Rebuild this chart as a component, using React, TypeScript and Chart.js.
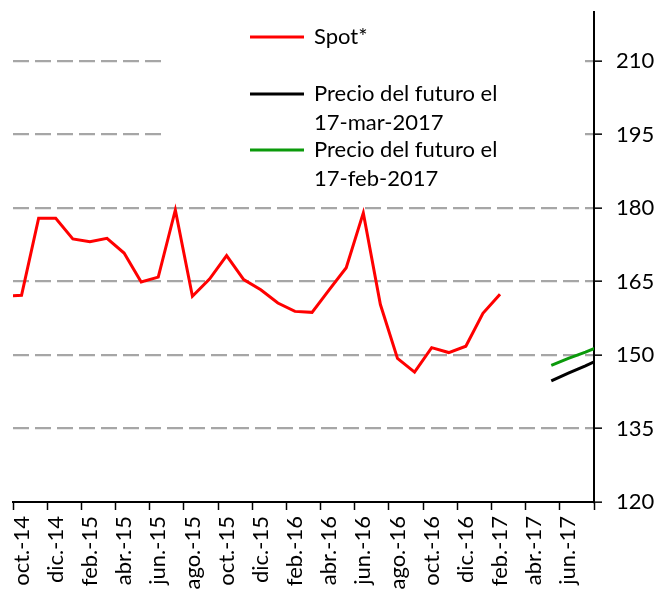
import React, { useEffect, useRef } from 'react';
import { Chart, registerables } from 'chart.js';

Chart.register(...registerables);

// Monthly categories (sep.-14 and ago.-17 lie just outside the visible range)
const categories = [
  'sep.-14', 'oct.-14', 'nov.-14', 'dic.-14', 'ene.-15', 'feb.-15', 'mar.-15', 'abr.-15',
  'may.-15', 'jun.-15', 'jul.-15', 'ago.-15', 'sep.-15', 'oct.-15', 'nov.-15', 'dic.-15',
  'ene.-16', 'feb.-16', 'mar.-16', 'abr.-16', 'may.-16', 'jun.-16', 'jul.-16', 'ago.-16',
  'sep.-16', 'oct.-16', 'nov.-16', 'dic.-16', 'ene.-17', 'feb.-17', 'mar.-17', 'abr.-17',
  'may.-17', 'jun.-17', 'jul.-17', 'ago.-17',
];

const spot: (number | null)[] = [
  162.0, 162.2, 177.9, 177.9, 173.7, 173.1, 173.8, 170.8,
  164.9, 165.9, 179.6, 162.0, 165.5, 170.3, 165.4, 163.3,
  160.6, 158.9, 158.7, 163.3, 167.8, 179.0, 160.3, 149.3,
  146.5, 151.5, 150.5, 151.8, 158.5, 162.4, null, null,
  null, null, null, null,
];

const futuroMar: (number | null)[] = [
  null, null, null, null, null, null, null, null,
  null, null, null, null, null, null, null, null,
  null, null, null, null, null, null, null, null,
  null, null, null, null, null, null, null, null,
  144.7, 146.3, 147.8, 149.4,
];

const futuroFeb: (number | null)[] = [
  null, null, null, null, null, null, null, null,
  null, null, null, null, null, null, null, null,
  null, null, null, null, null, null, null, null,
  null, null, null, null, null, null, null, null,
  147.9, 149.3, 150.6, 152.0,
];

const yTicks = [120, 135, 150, 165, 180, 195, 210];
const firstVisible = 1; // oct.-14
const lastVisible = 34; // jul.-17

const seriesNames = ['Spot*', 'Precio del futuro el 17-mar-2017', 'Precio del futuro el 17-feb-2017'];
const legendLines = [['Spot*'], ['Precio del futuro el', '17-mar-2017'], ['Precio del futuro el', '17-feb-2017']];
const seriesColors = ['#ff0000', '#000000', '#0b9a0b'];

const FONT = 'Lato, "Open Sans", sans-serif';

const toPoints = (arr: (number | null)[]) =>
  arr.map((v, i) => (v == null ? null : { x: i, y: v })).filter((p) => p !== null) as { x: number; y: number }[];

const legendBox = {
  id: 'legendBox',
  beforeDatasetsDraw(chart: any) {
    const ctx = chart.ctx;
    ctx.save();
    ctx.fillStyle = '#ffffff';
    ctx.fillRect(165, 13, 420, 183);
    const rows = [37, 94, 150];
    ctx.font = `22px ${FONT}`;
    ctx.textBaseline = 'middle';
    ctx.textAlign = 'left';
    legendLines.forEach((lines, k) => {
      const y = rows[k];
      ctx.strokeStyle = seriesColors[k];
      ctx.lineWidth = 3;
      ctx.beginPath();
      ctx.moveTo(250, y);
      ctx.lineTo(304, y);
      ctx.stroke();
      ctx.fillStyle = '#000000';
      lines.forEach((t, j) => ctx.fillText(t, 314, y + j * 29));
    });
    ctx.restore();
  },
};

export default function App() {
  const ref = useRef<HTMLCanvasElement | null>(null);

  useEffect(() => {
    if (!ref.current) return;
    const xTickValues: number[] = [];
    for (let i = firstVisible; i <= lastVisible + 1; i += 2) xTickValues.push(i - 0.5);

    const chart = new Chart(ref.current, {
      type: 'line',
      data: {
        datasets: [spot, futuroMar, futuroFeb].map((arr, k) => ({
          label: seriesNames[k],
          data: toPoints(arr),
          borderColor: seriesColors[k],
          backgroundColor: seriesColors[k],
          borderWidth: 3,
          pointRadius: 0,
          tension: 0,
          fill: false,
        })),
      },
      options: {
        animation: false,
        responsive: true,
        maintainAspectRatio: false,
        layout: { padding: { left: 13, top: 12, right: 0, bottom: 0 } },
        plugins: { legend: { display: false }, tooltip: { enabled: false } },
        scales: {
          x: {
            type: 'linear',
            min: firstVisible - 0.5,
            max: lastVisible + 0.5,
            afterBuildTicks: (scale: any) => {
              scale.ticks = xTickValues.map((v) => ({ value: v }));
            },
            afterFit: (scale: any) => {
              scale.height = 98;
              scale.paddingLeft = 0;
              scale.paddingRight = 0;
            },
            ticks: {
              autoSkip: false,
              minRotation: 90,
              maxRotation: 90,
              labelOffset: 8.55,
              padding: 6,
              color: '#000000',
              font: { family: FONT, size: 22 },
              callback: (value: any) => {
                const idx = Math.round(Number(value) + 0.5);
                return idx <= lastVisible ? categories[idx] : '';
              },
            },
            grid: {
              display: true,
              drawOnChartArea: false,
              drawTicks: true,
              tickLength: 8,
              tickColor: '#000000',
              tickWidth: 1.5,
            },
            border: { display: true, color: '#000000', width: 2 },
          },
          y: {
            type: 'linear',
            position: 'right',
            min: 120,
            max: 220,
            afterBuildTicks: (scale: any) => {
              scale.ticks = yTicks.map((v) => ({ value: v }));
            },
            afterFit: (scale: any) => {
              scale.width = 69;
              scale.paddingTop = 0;
              scale.paddingBottom = 0;
            },
            ticks: {
              padding: 14,
              color: '#000000',
              font: { family: FONT, size: 22 },
            },
            grid: {
              display: true,
              drawOnChartArea: true,
              color: (ctx: any) => (ctx.tick && ctx.tick.value === 120 ? 'rgba(0,0,0,0)' : '#a6a6a6'),
              lineWidth: 2.3,
              drawTicks: true,
              tickLength: 8,
              tickColor: '#000000',
              tickWidth: 1.5,
            },
            border: { display: true, color: '#000000', width: 2, dash: [16, 6] },
          },
        },
      },
      plugins: [legendBox],
    } as any);
    return () => chart.destroy();
  }, []);

  return (
    <div style={{ position: 'fixed', left: 0, top: 0, width: 663, height: 600, background: '#ffffff' }}>
      <canvas ref={ref} />
    </div>
  );
}
